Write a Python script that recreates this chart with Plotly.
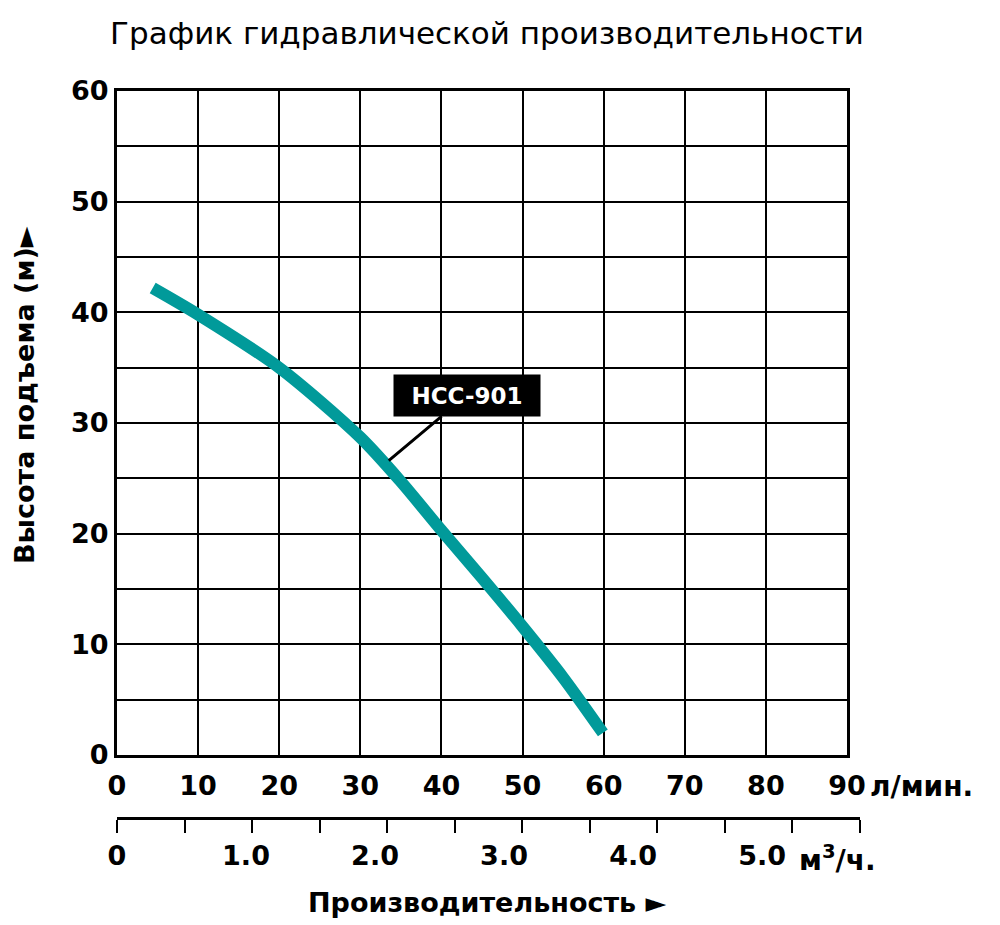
import plotly.graph_objects as go

# pump curve (flow in l/min, head in m)
flow_lpm = [4.4, 10, 20, 30, 35, 40, 45, 50, 55, 59.9]
head_m = [42.2, 39.8, 35.0, 28.7, 24.7, 20.3, 16.0, 11.6, 7.0, 2.0]

lpm_ticks = [0, 10, 20, 30, 40, 50, 60, 70, 80, 90]
head_ticks = [0, 10, 20, 30, 40, 50, 60]
m3h_ticks = [0, 0.5, 1.0, 1.5, 2.0, 2.5, 3.0, 3.5, 4.0, 4.5, 5.0, 5.5]
m3h_labels = ["0", "1.0", "2.0", "3.0", "4.0", "5.0"]

model = "HCC-901"
teal = "#019a9a"
font_name = "DejaVu Sans, Liberation Sans, sans-serif"

# pixel layout of the plot box (page coords; the html body adds an 8px margin)
W, H = 1000, 925
OFF = 8
L, R = 117, 860   # plot area incl. lower m3/h scale
T, B = 91, 818
grid_bottom = 755
x_main_frac = 730 / (R - L)
y_dom0 = (B - grid_bottom) / (B - T)


def px(xp):
    return (xp - L) / (R - L)


def py(yp):
    return (B - yp) / (B - T)


fig = go.Figure()

fig.add_trace(go.Scatter(
    x=flow_lpm, y=head_m, mode="lines",
    line=dict(color=teal, width=12, shape="spline", smoothing=0.8),
    hoverinfo="skip", showlegend=False,
))

axis_font = dict(family=font_name, size=27, color="black", weight="bold")

fig.update_layout(
    width=W, height=H,
    margin=dict(l=L - OFF, r=W - R + OFF, t=T - OFF, b=H - B + OFF),
    plot_bgcolor="rgba(0,0,0,0)", paper_bgcolor="white",
    showlegend=False,
    xaxis=dict(
        domain=[0, x_main_frac], range=[0, 90],
        tickvals=lpm_ticks, tickfont=axis_font,
        showgrid=True, gridcolor="black", gridwidth=2,
        showline=True, linecolor="black", linewidth=3, mirror=True,
        ticks="outside", ticklen=5, tickcolor="rgba(0,0,0,0)",
        zeroline=False, anchor="y", automargin=False,
    ),
    yaxis=dict(
        domain=[y_dom0, 1], range=[0, 60],
        tickvals=head_ticks, tickfont=axis_font,
        showgrid=True, gridcolor="black", gridwidth=2,
        minor=dict(dtick=5, showgrid=True, gridcolor="black", gridwidth=2),
        showline=True, linecolor="black", linewidth=3, mirror=True,
        ticks="", zeroline=False, anchor="x", automargin=False,
    ),
    # hidden helper y axis for the lower m3/h scale
    yaxis2=dict(
        domain=[0, 1], range=[0, 1], anchor="free", position=0,
        visible=False, showgrid=False, zeroline=False, automargin=False,
    ),
    # lower scale in m3/h: line and ticks
    xaxis2=dict(
        domain=[0, 1], range=[0, 5.5], anchor="free", position=0,
        side="bottom",
        tickvals=m3h_ticks, showticklabels=False,
        ticks="outside", ticklen=13, tickwidth=2, tickcolor="black",
        showline=True, linecolor="black", linewidth=3,
        showgrid=False, zeroline=False, automargin=False,
    ),
    # lower scale labels
    xaxis3=dict(
        domain=[0, 0.955], range=[0, 5.5], anchor="free", position=0,
        side="bottom",
        tickvals=[0, 1, 2, 3, 4, 5], ticktext=m3h_labels, tickfont=axis_font,
        ticks="outside", ticklen=14, tickcolor="rgba(0,0,0,0)",
        showline=False, showgrid=False, zeroline=False, automargin=False,
    ),
    title=dict(
        text="График гидравлической производительности",
        x=(487 - OFF) / W, y=1 - (33 - OFF) / H, xref="container", yref="container",
        xanchor="center", yanchor="middle",
        font=dict(family=font_name, size=31, color="black"),
    ),
)

# dummy traces so the extra axes are drawn
fig.add_trace(go.Scatter(x=[None], y=[None], xaxis="x2", yaxis="y2", showlegend=False))
fig.add_trace(go.Scatter(x=[None], y=[None], xaxis="x3", yaxis="y2", showlegend=False))

# model label with leader line
fig.add_annotation(
    x=33.5, y=26.6, xref="x", yref="y",
    ax=43.1, ay=32.5, axref="x", ayref="y",
    text=model, showarrow=True, arrowhead=0, arrowwidth=3, arrowcolor="black",
    font=dict(family=font_name, size=23, color="white", weight="bold"),
    bgcolor="black", borderpad=5, width=136, height=31,
)

# texts around the plot
fig.add_annotation(
    x=px(25), y=py(395), xref="paper", yref="paper",
    text="Высота подъема (м)►", textangle=-90, showarrow=False,
    font=dict(family=font_name, size=27, color="black", weight="bold"),
    xanchor="center", yanchor="middle",
)
fig.add_annotation(
    x=px(487), y=py(903), xref="paper", yref="paper",
    text="Производительность ►", showarrow=False,
    font=dict(family=font_name, size=27, color="black", weight="bold"),
    xanchor="center", yanchor="middle",
)
fig.add_annotation(
    x=px(868), y=py(786), xref="paper", yref="paper",
    text="л/мин.", showarrow=False,
    font=dict(family=font_name, size=28, color="black", weight="bold"),
    xanchor="left", yanchor="middle",
)
fig.add_annotation(
    x=px(797), y=py(858), xref="paper", yref="paper",
    text="м<sup>3</sup>/ч.", showarrow=False,
    font=dict(family=font_name, size=28, color="black", weight="bold"),
    xanchor="left", yanchor="middle",
)

fig.write_html("out.html")
